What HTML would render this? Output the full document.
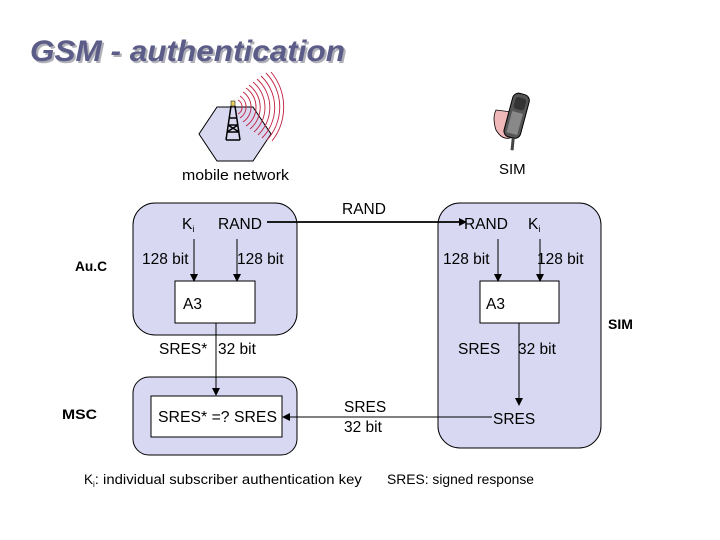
<!DOCTYPE html>
<html><head><meta charset="utf-8"><style>
body{margin:0;background:#fff;}
svg{display:block;font-family:"Liberation Sans",Arial,sans-serif;}
</style></head><body>
<svg width="720" height="540" viewBox="0 0 720 540" xmlns="http://www.w3.org/2000/svg">
<defs>
<marker id="a" markerWidth="8" markerHeight="8" refX="7" refY="4" orient="auto" markerUnits="userSpaceOnUse">
<path d="M0,0 L8,4 L0,8 z" fill="#000"/></marker>
</defs>
<text x="32" y="63" font-size="30" font-weight="bold" font-style="italic" fill="#b0b0b8" textLength="315" lengthAdjust="spacingAndGlyphs">GSM - authentication</text>
<text x="30" y="61" font-size="30" font-weight="bold" font-style="italic" fill="#5c5c88" textLength="315" lengthAdjust="spacingAndGlyphs">GSM - authentication</text>
<!-- hexagon -->
<polygon points="217,107 253,107 271,134 253,161 217,161 199,134" fill="#d8d8f0" stroke="#000" stroke-width="1"/>
<g fill="none" stroke="#c02040" stroke-width="0.9">
<path d="M238,100 A8,8 0 0 1 238,114"/><path d="M240,96 A13,13 0 0 1 240,118"/>
<path d="M243,92 A18,18 0 0 1 243,122"/><path d="M246,88 A23,23 0 0 1 246,126"/>
<path d="M249,85 A28,28 0 0 1 250,129"/><path d="M253,82 A33,33 0 0 1 254,132"/>
<path d="M257,79 A38,38 0 0 1 258,135"/><path d="M261,76 A43,43 0 0 1 262,138"/>
<path d="M266,73 A49,49 0 0 1 267,140"/><path d="M271,72 A55,55 0 0 1 272,141"/>
</g>
<g stroke="#000" stroke-width="1.5" fill="none">
<path d="M231,106 L226,140 M235,106 L240,140 M226,140 L240,140 M228,125 L238,125 M227,132 L239,132 M229,118 L237,118 M228,125 L239,132 M238,125 L227,132"/>
</g>
<rect x="231" y="101" width="4" height="5" fill="#e8d060" stroke="#000" stroke-width="0.5"/>
<!-- phone -->
<path d="M496,110 Q492,118 496,130 Q502,140 510,138 L512,112 Z" fill="#f0b8b8" stroke="#000" stroke-width="0.8"/>
<g transform="rotate(15 515 120)">
<rect x="507" y="93" width="17" height="45" rx="6" fill="#555" stroke="#000"/>
<rect x="510" y="97" width="11" height="12" rx="3" fill="#333"/>
<rect x="510" y="112" width="11" height="22" fill="#888"/>
<line x1="518" y1="138" x2="520" y2="150" stroke="#444" stroke-width="3"/>
</g>
<text x="182" y="180" font-size="15" textLength="107" lengthAdjust="spacingAndGlyphs">mobile network</text>
<text x="499" y="174" font-size="15">SIM</text>
<!-- boxes -->
<rect x="133" y="203" width="164" height="132" rx="22" fill="#d8d8f2" stroke="#000"/>
<rect x="438" y="203" width="163" height="245" rx="22" fill="#d8d8f2" stroke="#000"/>
<rect x="133" y="377" width="164" height="78" rx="16" fill="#d8d8f2" stroke="#000"/>
<rect x="175" y="281" width="80" height="42" fill="#fff" stroke="#000"/>
<rect x="480" y="281" width="79" height="42" fill="#fff" stroke="#000"/>
<rect x="151" y="396" width="131" height="41" fill="#fff" stroke="#000"/>
<g font-size="15.5">
<text x="182" y="229">K<tspan font-size="9" dy="3">i</tspan></text>
<text x="218" y="229">RAND</text>
<text x="342" y="214">RAND</text>
<text x="464" y="229">RAND</text>
<text x="528" y="229">K<tspan font-size="9" dy="3">i</tspan></text>
<text x="142" y="264">128 bit</text>
<text x="237" y="264">128 bit</text>
<text x="443" y="264">128 bit</text>
<text x="537" y="264">128 bit</text>
<text x="183" y="309">A3</text>
<text x="486" y="309">A3</text>
<text x="159" y="354">SRES*</text>
<text x="218" y="354">32 bit</text>
<text x="458" y="354">SRES</text>
<text x="518" y="354">32 bit</text>
<text x="158" y="422" textLength="119" lengthAdjust="spacingAndGlyphs">SRES* =? SRES</text>
<text x="344" y="412">SRES</text>
<text x="344" y="432">32 bit</text>
<text x="493" y="424">SRES</text>
</g>
<text x="75" y="271" font-size="14" font-weight="bold" textLength="32" lengthAdjust="spacingAndGlyphs">Au.C</text>
<text x="62" y="419" font-size="14" font-weight="bold" textLength="35" lengthAdjust="spacingAndGlyphs">MSC</text>
<text x="608" y="329" font-size="14" font-weight="bold">SIM</text>
<!-- arrows -->
<line x1="267" y1="222" x2="466" y2="222" stroke="#000" stroke-width="1.8" marker-end="url(#a)"/>
<g stroke="#000" stroke-width="1">
<line x1="194" y1="239" x2="194" y2="281" marker-end="url(#a)"/>
<line x1="237" y1="239" x2="237" y2="281" marker-end="url(#a)"/>
<line x1="498" y1="239" x2="498" y2="281" marker-end="url(#a)"/>
<line x1="540" y1="239" x2="540" y2="281" marker-end="url(#a)"/>
<line x1="216" y1="323" x2="216" y2="395" marker-end="url(#a)"/>
<line x1="519" y1="323" x2="519" y2="405" marker-end="url(#a)"/>
<line x1="492" y1="417" x2="283" y2="417" marker-end="url(#a)"/>
</g>
<text x="84" y="484" font-size="13.5">K<tspan font-size="8" dy="3">i</tspan><tspan dy="-3" textLength="267" lengthAdjust="spacingAndGlyphs">: individual subscriber authentication key</tspan></text>
<text x="387" y="484" font-size="13.5" textLength="147" lengthAdjust="spacingAndGlyphs">SRES: signed response</text>
</svg>
</body></html>
